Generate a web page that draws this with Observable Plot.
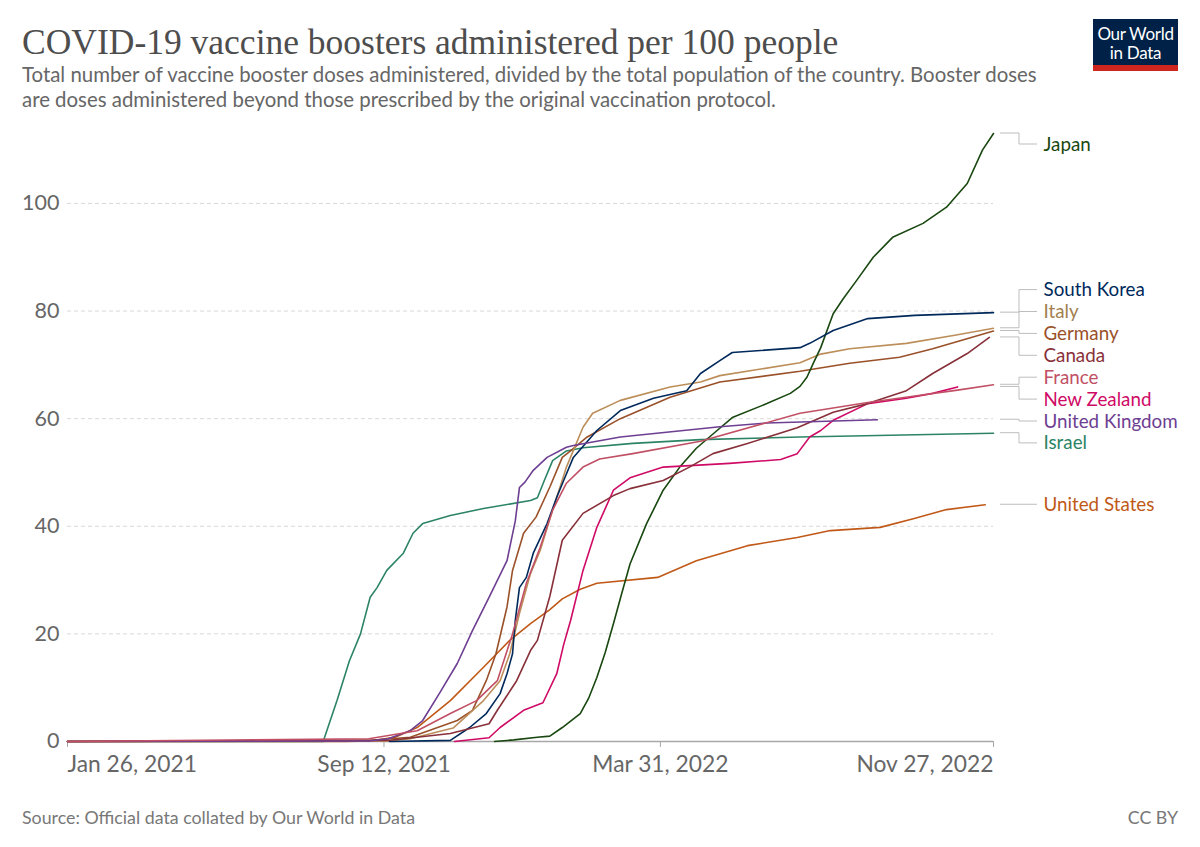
<!DOCTYPE html>
<html><head><meta charset="utf-8">
<script src="https://cdn.jsdelivr.net/npm/d3@7"></script>
<script src="https://cdn.jsdelivr.net/npm/@observablehq/plot@0.6"></script>
<style>
body{margin:0;background:#fff;width:1200px;height:847px;position:relative;overflow:hidden;font-family:Lato,"Noto Sans",sans-serif;}
#title{position:absolute;left:22px;top:20px;font-family:"Liberation Serif",serif;font-size:35.5px;color:#4d4d4d;line-height:44px;white-space:nowrap;}
#subtitle{position:absolute;left:22px;top:62px;width:1048px;font-size:20.4px;line-height:25px;color:#666;}
#logo{position:absolute;left:1093px;top:19px;width:85px;height:52px;background:#002147;color:#fff;text-align:center;font-size:17px;line-height:19px;box-sizing:border-box;padding-top:5px;border-bottom:6px solid #ce261e;letter-spacing:-0.3px;}
#chart{position:absolute;left:0;top:120px;}
#source{position:absolute;left:22px;top:806px;font-size:17.8px;color:#777;}
#cc{position:absolute;right:22px;top:806px;font-size:17.8px;color:#777;}
</style></head>
<body>
<div id="title">COVID-19 vaccine boosters administered per 100 people</div>
<div id="subtitle">Total number of vaccine booster doses administered, divided by the total population of the country. Booster doses<br>are doses administered beyond those prescribed by the original vaccination protocol.</div>
<div id="logo">Our World<br>in Data</div>
<div id="chart"></div>
<div id="source">Source: Official data collated by Our World in Data</div>
<div id="cc">CC BY</div>
<script>
const countries = ["Japan","South Korea","Italy","Germany","Canada","France","New Zealand","United Kingdom","Israel","United States"];
const colors = ["#18470F","#00295B","#BC8E5A","#9A5129","#883039","#C15065","#CF0A66","#6D3E91","#2C8465","#C05917"];
const labelColors = ["#18470F","#00295B","#A2804F","#9A5129","#883039","#C15065","#CF0A66","#6D3E91","#2C8465","#C05917"];

const japan = [["2021-12-01",0],["2021-12-15",0.3],["2022-01-01",0.8],["2022-01-10",1.0],["2022-01-19",2.6],["2022-02-01",5.2],["2022-02-07",8],["2022-02-13",11.9],["2022-02-19",16.5],["2022-02-25",21.9],["2022-03-03",27.5],["2022-03-09",33],["2022-03-21",40.5],["2022-04-02",46.7],["2022-04-14",51],["2022-04-26",54.5],["2022-05-11",57.8],["2022-05-22",60.2],["2022-06-16",62.8],["2022-07-03",64.7],["2022-07-10",66],["2022-07-15",67.7],["2022-07-20",70.5],["2022-07-25",73.2],["2022-08-03",79.5],["2022-08-10",82.2],["2022-08-20",85.7],["2022-09-01",90],["2022-09-15",93.7],["2022-10-07",96.3],["2022-10-24",99.3],["2022-11-08",103.7],["2022-11-19",109.9],["2022-11-27",113]];
const southKorea = [["2021-09-16",0],["2021-10-30",0.2],["2021-11-13",2.6],["2021-11-25",5.2],["2021-12-05",8.9],["2021-12-10",12.6],["2021-12-14",16.3],["2021-12-16",22.5],["2021-12-19",28.6],["2021-12-24",30.5],["2021-12-29",35],["2022-01-08",40.5],["2022-01-15",45.4],["2022-01-20",48.5],["2022-01-27",52.8],["2022-02-13",57.8],["2022-03-02",61.5],["2022-03-26",63.8],["2022-04-19",65.2],["2022-04-29",68.4],["2022-05-13",70.8],["2022-05-22",72.3],["2022-07-10",73.2],["2022-07-17",74],["2022-08-03",76.4],["2022-08-28",78.6],["2022-10-01",79.2],["2022-11-27",79.7]];
const italy = [["2021-01-26",0],["2021-09-15",0.1],["2021-10-01",0.5],["2021-11-01",2.5],["2021-11-23",7.6],["2021-12-05",11.3],["2021-12-12",16.3],["2021-12-19",23.8],["2021-12-27",31.2],["2022-01-03",35.5],["2022-01-12",43],["2022-01-22",51],["2022-02-03",58.4],["2022-02-10",61],["2022-03-02",63.4],["2022-04-07",65.9],["2022-04-29",66.8],["2022-05-13",68],["2022-07-10",70.4],["2022-07-25",72],["2022-08-15",73],["2022-09-25",74],["2022-10-30",75.5],["2022-11-27",76.8]];
const germany = [["2021-01-26",0],["2021-09-01",0.2],["2021-10-01",0.8],["2021-11-04",3.9],["2021-11-15",5.8],["2021-11-25",11.3],["2021-12-02",16.3],["2021-12-10",25],["2021-12-14",31.8],["2021-12-22",38.7],["2021-12-31",41.7],["2022-01-10",47.3],["2022-01-19",52.8],["2022-01-25",54],["2022-02-06",56.6],["2022-03-02",60],["2022-04-07",64],["2022-05-13",66.8],["2022-07-10",68.8],["2022-08-15",70.3],["2022-09-20",71.4],["2022-10-14",73],["2022-11-27",76.3]];
const canada = [["2021-01-26",0],["2021-09-15",0.2],["2021-10-30",1.5],["2021-11-27",3.3],["2021-12-03",5.8],["2021-12-17",11.3],["2021-12-27",16.9],["2022-01-01",18.8],["2022-01-10",27],["2022-01-19",37.4],["2022-02-03",42.4],["2022-02-25",45.7],["2022-03-09",47],["2022-04-02",48.5],["2022-04-21",51],["2022-05-08",53.5],["2022-06-02",55.4],["2022-07-08",58.3],["2022-08-03",61.2],["2022-08-28",62.8],["2022-09-25",65.2],["2022-10-14",68.4],["2022-11-08",72.1],["2022-11-24",75.1]];
const france = [["2021-01-26",0],["2021-09-01",0.5],["2021-10-06",2],["2021-10-30",5.2],["2021-11-18",7.6],["2021-12-03",11.3],["2021-12-14",20],["2021-12-24",29.4],["2022-01-03",36.1],["2022-01-12",43],["2022-01-22",48],["2022-02-03",51],["2022-02-15",52.5],["2022-03-11",53.5],["2022-04-29",55.8],["2022-07-10",61],["2022-08-28",63],["2022-10-01",64.2],["2022-11-01",65.3],["2022-11-27",66.3]];
const newZealand = [["2021-11-02",0],["2021-11-27",0.7],["2021-12-05",2.6],["2021-12-22",5.8],["2022-01-05",7.2],["2022-01-15",12.6],["2022-01-20",18],["2022-01-25",22.5],["2022-02-03",31.8],["2022-02-13",39.8],["2022-02-25",46.7],["2022-03-09",49],["2022-04-02",51],["2022-05-20",51.7],["2022-06-26",52.4],["2022-07-08",53.5],["2022-07-17",56.6],["2022-07-25",57.8],["2022-08-03",59.7],["2022-08-28",62.8],["2022-09-25",63.8],["2022-10-14",64.7],["2022-11-01",65.9]];
const unitedKingdom = [["2021-01-26",0],["2021-09-01",0.1],["2021-09-15",0.5],["2021-10-01",2],["2021-10-10",3.9],["2021-10-22",8.9],["2021-11-04",14.5],["2021-11-15",20.6],["2021-11-27",26.8],["2021-12-10",33.6],["2021-12-16",41],["2021-12-19",47.2],["2021-12-23",48.2],["2021-12-29",50.4],["2022-01-08",52.8],["2022-01-22",54.7],["2022-01-27",55],["2022-03-02",56.6],["2022-05-13",58.5],["2022-06-16",59.2],["2022-09-04",59.8]];
const israel = [["2021-01-26",0],["2021-07-30",0],["2021-08-09",7.6],["2021-08-18",15],["2021-08-26",20],["2021-09-02",26.8],["2021-09-07",28.6],["2021-09-14",31.8],["2021-09-26",35],["2021-10-03",38.7],["2021-10-10",40.5],["2021-10-30",42],["2021-11-23",43.3],["2021-12-27",44.8],["2022-01-01",45.3],["2022-01-06",48.5],["2022-01-12",52.2],["2022-01-22",54],["2022-02-03",54.6],["2022-03-11",55.4],["2022-04-29",56.1],["2022-07-10",56.6],["2022-11-27",57.3]];
const unitedStates = [["2021-01-26",0],["2021-08-15",0],["2021-09-01",0.1],["2021-09-20",0.8],["2021-10-06",2.6],["2021-10-30",7.6],["2021-11-23",13.8],["2021-12-12",18.8],["2021-12-27",21.9],["2022-01-10",24.5],["2022-01-19",26.5],["2022-02-01",28.3],["2022-02-13",29.4],["2022-03-29",30.5],["2022-04-26",33.6],["2022-06-02",36.4],["2022-07-08",37.9],["2022-08-01",39.2],["2022-09-06",39.8],["2022-09-30",41.4],["2022-10-24",43.1],["2022-11-21",44]];

const seriesList = [japan, southKorea, italy, germany, canada, france, newZealand, unitedKingdom, israel, unitedStates];
const xTicks = ["2021-01-26","2021-09-12","2022-03-31","2022-11-27"];
const yTicks = [0,20,40,60,80,100];

const parse = d3.utcParse("%Y-%m-%d");
const fmt = d3.utcFormat("%b %-d, %Y");
const rows = [];
seriesList.forEach((s, i) => s.forEach(([d, v]) => rows.push({country: countries[i], date: parse(d), value: v})));
const drawOrder = ["Israel","United States","Germany","Italy","Japan","South Korea","New Zealand","Canada","United Kingdom","France"];
rows.sort((a,b) => drawOrder.indexOf(a.country) - drawOrder.indexOf(b.country));

const xDomain = [parse(xTicks[0]), parse(xTicks[xTicks.length-1])];
const yMax = d3.max(rows, d => d.value);
const W = 1200, H = 660, mT = 13, mB = 39, mL = 67, mR = 207;
const plotH = H - mT - mB;

// label placement (cluster-based dodge in data units)
const gap = 21.9 * yMax / plotH;
const labels = countries.map((c, i) => {
  const s = seriesList[i];
  return {name: c, end: s[s.length-1][1], color: labelColors[i]};
}).sort((a,b) => b.end - a.end);
let clusters = labels.map(d => ({m: [d]}));
const clusterTop = c => d3.mean(c.m, d => d.end) + (c.m.length-1)/2*gap;
let changed = true;
while (changed) {
  changed = false;
  for (let i = 0; i < clusters.length - 1; i++) {
    const a = clusters[i], b = clusters[i+1];
    const aBottom = clusterTop(a) - (a.m.length-1)*gap;
    if (aBottom - gap < clusterTop(b)) { clusters.splice(i, 2, {m: a.m.concat(b.m)}); changed = true; break; }
  }
}
const maxLabel = yMax - 11 * yMax / plotH;
clusters.forEach(c => {
  const t = Math.min(clusterTop(c), maxLabel);
  c.m.forEach((d, k) => d.pos = t - k*gap);
});

const xEnd = xDomain[1];
const connectors = (index, scales) => {
  const g = d3.create("svg:g").attr("fill","none").attr("stroke","#bdbdbd").attr("stroke-width",1);
  const x0 = scales.x(xEnd);
  labels.forEach(L => {
    const y0 = scales.y(L.end), y1 = scales.y(L.pos);
    g.append("path").attr("d", `M${x0+7},${y0}H${x0+26}V${y1}H${x0+44}`);
  });
  return g.node();
};

const chart = Plot.plot({
  width: W, height: H,
  marginTop: mT, marginBottom: mB, marginLeft: mL, marginRight: mR,
  style: {fontFamily: "Lato, 'Noto Sans', sans-serif", color: "#666", background: "#fff", overflow: "visible"},
  x: {type: "utc", domain: xDomain},
  y: {domain: [0, yMax]},
  color: {domain: countries, range: colors},
  marks: [
    Plot.gridY(yTicks.filter(t => t > 0), {stroke: "#d9d9d9", strokeOpacity: 1, strokeDasharray: "4,3"}),
    Plot.axisY({ticks: yTicks, tickSize: 0, tickPadding: 8, fontSize: 21.5, fill: "#666", label: null}),
    Plot.ruleY([0], {stroke: "#a8a8a8", strokeWidth: 1.5}),
    Plot.axisX({ticks: xTicks.map(parse), tickSize: 6, stroke: "#a8a8a8", tickFormat: () => "", label: null}),
    Plot.text([xTicks[0]], {x: d => parse(d), text: d => fmt(parse(d)), frameAnchor: "bottom", dy: 30, textAnchor: "start", fontSize: 22.8, fill: "#666"}),
    Plot.text(xTicks.slice(1, -1), {x: d => parse(d), text: d => fmt(parse(d)), frameAnchor: "bottom", dy: 30, textAnchor: "middle", fontSize: 22.8, fill: "#666"}),
    Plot.text([xTicks[xTicks.length-1]], {x: d => parse(d), text: d => fmt(parse(d)), frameAnchor: "bottom", dy: 30, textAnchor: "end", fontSize: 22.8, fill: "#666"}),
    Plot.line(rows, {x: "date", y: "value", z: "country", stroke: "country", strokeWidth: 1.6}),
    connectors,
    Plot.text(labels, {x: () => xEnd, y: "pos", text: "name", dx: 50, textAnchor: "start", fontSize: 18.8, fill: d => d.color})
  ]
});
document.getElementById("chart").appendChild(chart);
</script>
</body></html>
